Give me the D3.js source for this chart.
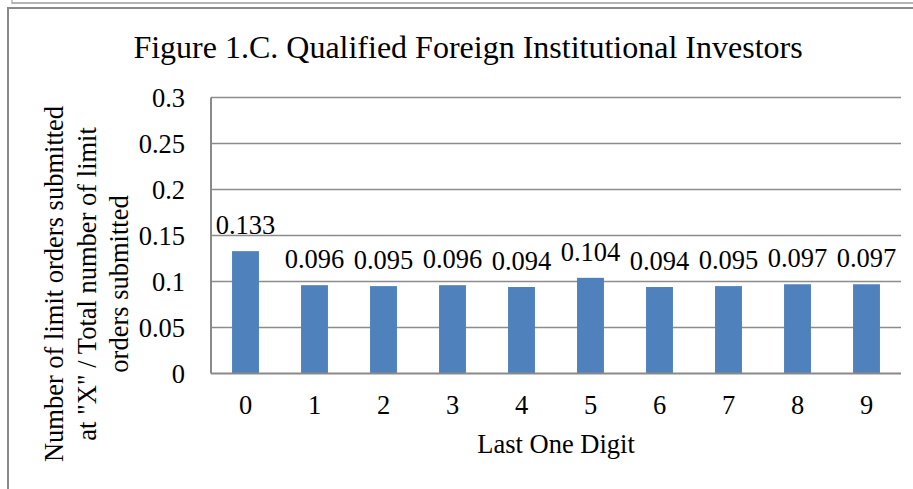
<!DOCTYPE html>
<html>
<head>
<meta charset="utf-8">
<script src="https://cdn.jsdelivr.net/npm/d3@7"></script>
<style>
  body { margin: 0; background: #fff; }
  svg text { font-family: "Liberation Serif", "Times New Roman", serif; fill: #000; }
</style>
</head>
<body>
<div id="chart"></div>
<script>
// data
var digits = ["0", "1", "2", "3", "4", "5", "6", "7", "8", "9"];
var shares = [0.133, 0.096, 0.095, 0.096, 0.094, 0.104, 0.094, 0.095, 0.097, 0.097];
var yTicks = [0, 0.05, 0.1, 0.15, 0.2, 0.25, 0.3];
var yTitle = ["Number of limit orders submitted", "at \"X\" / Total number of limit", "orders submitted"];

var W = 913, H = 489;
var margin = {top: 97.5, right: 12, bottom: 115.5, left: 211},
    width = W - margin.left - margin.right,
    height = H - margin.top - margin.bottom;

var fs = "26.5px";

var svg = d3.select("#chart").append("svg")
    .attr("width", W)
    .attr("height", H);

// frames (upper element's bottom edge and the chart box)
svg.append("line")
    .attr("x1", 12).attr("y1", 3).attr("x2", W).attr("y2", 3)
    .attr("stroke", "#b4b4b4").attr("stroke-width", 2);
svg.append("line")
    .attr("x1", 12).attr("y1", 0).attr("x2", 12).attr("y2", 4)
    .attr("stroke", "#b4b4b4").attr("stroke-width", 1.5);
svg.append("path")
    .attr("d", "M8," + H + "V8H" + W)
    .attr("fill", "none")
    .attr("stroke", "#8a8a8a").attr("stroke-width", 2);

var g = svg.append("g")
    .attr("transform", "translate(" + margin.left + "," + margin.top + ")");

var x = d3.scaleBand()
    .domain(digits)
    .range([0, width])
    .paddingInner(0.61)
    .paddingOuter(0.305);

var y = d3.scaleLinear()
    .domain([0, 0.3])
    .range([height, 0]);

// gridlines
g.selectAll(".grid")
    .data(yTicks.slice(1))
    .enter().append("line")
    .attr("class", "grid")
    .attr("x1", 0).attr("x2", width)
    .attr("y1", function(d) { return y(d); })
    .attr("y2", function(d) { return y(d); })
    .attr("stroke", "#8c8c8c")
    .attr("stroke-width", 1.5);

// bars
g.selectAll(".bar")
    .data(shares)
    .enter().append("rect")
    .attr("class", "bar")
    .attr("x", function(d, i) { return x(digits[i]); })
    .attr("width", x.bandwidth())
    .attr("y", function(d) { return y(d); })
    .attr("height", function(d) { return height - y(d); })
    .attr("fill", "#4f81bd");

// axes lines
g.append("line")
    .attr("x1", 0).attr("x2", width)
    .attr("y1", height).attr("y2", height)
    .attr("stroke", "#8a8a8a").attr("stroke-width", 2);
g.append("line")
    .attr("x1", 0).attr("x2", 0)
    .attr("y1", 0).attr("y2", height)
    .attr("stroke", "#8a8a8a").attr("stroke-width", 2);

// y tick labels
g.selectAll(".ytick")
    .data(yTicks)
    .enter().append("text")
    .attr("class", "ytick")
    .attr("x", -26)
    .attr("y", function(d) { return y(d) + 9; })
    .attr("text-anchor", "end")
    .style("font-size", fs)
    .text(function(d) { return d; });

// x tick labels
g.selectAll(".xtick")
    .data(digits)
    .enter().append("text")
    .attr("class", "xtick")
    .attr("x", function(d) { return x(d) + x.bandwidth() / 2; })
    .attr("y", height + 40)
    .attr("text-anchor", "middle")
    .style("font-size", fs)
    .text(function(d) { return d; });

// value labels
g.selectAll(".val")
    .data(shares)
    .enter().append("text")
    .attr("class", "val")
    .attr("x", function(d, i) { return x(digits[i]) + x.bandwidth() / 2; })
    .attr("y", function(d) { return y(d) - 17; })
    .attr("text-anchor", "middle")
    .style("font-size", fs)
    .text(function(d) { return d3.format(".3f")(d); });

// x axis title
g.append("text")
    .attr("x", width / 2)
    .attr("y", height + 79)
    .attr("text-anchor", "middle")
    .style("font-size", fs)
    .text("Last One Digit");

// y axis title
svg.append("g")
    .attr("transform", "translate(0,284) rotate(-90)")
    .selectAll("text")
    .data(yTitle)
    .enter().append("text")
    .attr("x", 0)
    .attr("y", function(d, i) { return 63 + i * 32.5; })
    .attr("text-anchor", "middle")
    .style("font-size", fs)
    .text(function(d) { return d; });

// chart title
svg.append("text")
    .attr("x", 468)
    .attr("y", 58)
    .attr("text-anchor", "middle")
    .style("font-size", "32px")
    .text("Figure 1.C. Qualified Foreign Institutional Investors");
</script>
</body>
</html>
